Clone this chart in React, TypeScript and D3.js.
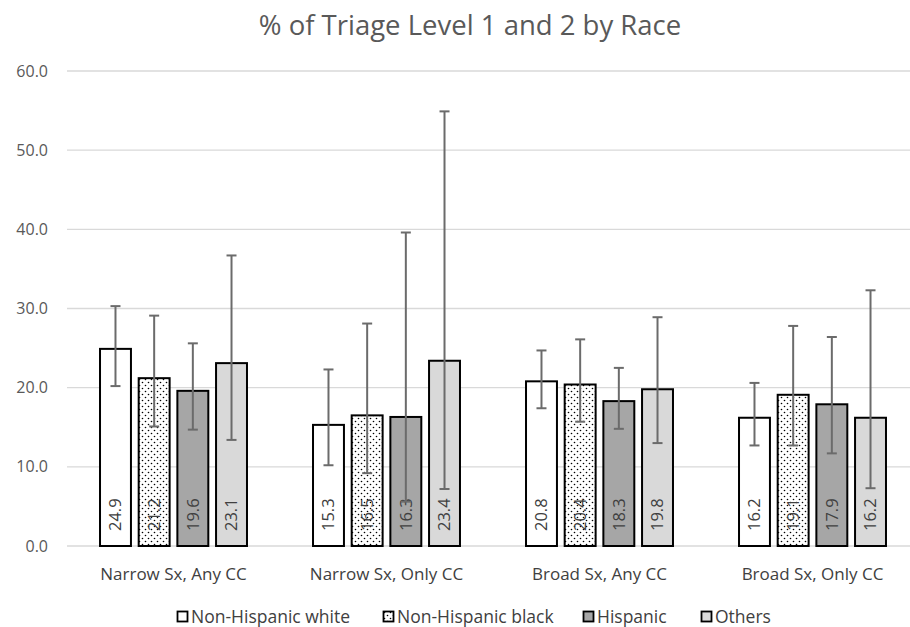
import { useEffect, useRef } from "react";
import * as d3 from "d3";

const categories = ["Narrow Sx, Any CC", "Narrow Sx, Only CC", "Broad Sx, Any CC", "Broad Sx, Only CC"];
const seriesNames = ["Non-Hispanic white", "Non-Hispanic black", "Hispanic", "Others"];

// values per series, one per category
const white = [24.9, 15.3, 20.8, 16.2];
const black = [21.2, 16.5, 20.4, 19.1];
const hispanic = [19.6, 16.3, 18.3, 17.9];
const others = [23.1, 23.4, 19.8, 16.2];

// confidence interval ends
const whiteLow = [20.2, 10.2, 17.4, 12.7];
const whiteHigh = [30.3, 22.3, 24.7, 20.6];
const blackLow = [15.1, 9.2, 15.7, 12.7];
const blackHigh = [29.1, 28.1, 26.1, 27.8];
const hispanicLow = [14.7, 5.6, 14.8, 11.7];
const hispanicHigh = [25.6, 39.6, 22.5, 26.4];
const othersLow = [13.4, 7.2, 13.0, 7.3];
const othersHigh = [36.7, 54.9, 28.9, 32.3];

const yTicks = [0, 10, 20, 30, 40, 50, 60];

const FONT = "'Open Sans', 'Noto Sans', sans-serif";

export default function App() {
    const ref = useRef<SVGSVGElement>(null);

    useEffect(() => {
        const svg = d3.select(ref.current);
        svg.selectAll("*").remove();

        const W = 910, H = 627;
        const left = 67, right = 919, top = 71, bottom = 546;

        const series = [
            { name: seriesNames[0], values: white, low: whiteLow, high: whiteHigh, fill: "#ffffff" },
            { name: seriesNames[1], values: black, low: blackLow, high: blackHigh, fill: "url(#dots)" },
            { name: seriesNames[2], values: hispanic, low: hispanicLow, high: hispanicHigh, fill: "#a6a6a6" },
            { name: seriesNames[3], values: others, low: othersLow, high: othersHigh, fill: "#d9d9d9" },
        ];

        const defs = svg.append("defs");
        const pat = defs.append("pattern")
            .attr("id", "dots")
            .attr("patternUnits", "userSpaceOnUse")
            .attr("width", 6)
            .attr("height", 6);
        pat.append("rect").attr("width", 6).attr("height", 6).attr("fill", "#fff");
        pat.append("circle").attr("cx", 1.5).attr("cy", 1.5).attr("r", 0.8).attr("fill", "#000");
        pat.append("circle").attr("cx", 4.5).attr("cy", 4.5).attr("r", 0.8).attr("fill", "#000");

        const x0 = d3.scaleBand().domain(categories).range([left, right]).paddingInner(0.31).paddingOuter(0.155);
        const x1 = d3.scaleBand().domain(seriesNames).range([0, x0.bandwidth()]).paddingInner(0.2);
        const y = d3.scaleLinear().domain([0, 60]).range([bottom, top]);

        // title
        svg.append("text")
            .attr("x", 470)
            .attr("y", 35)
            .attr("text-anchor", "middle")
            .attr("font-family", FONT)
            .attr("font-size", 27.5)
            .attr("fill", "#595959")
            .text("% of Triage Level 1 and 2 by Race");

        // gridlines
        svg.append("g")
            .selectAll("line")
            .data(yTicks)
            .join("line")
            .attr("x1", left)
            .attr("x2", right)
            .attr("y1", d => y(d))
            .attr("y2", d => y(d))
            .attr("stroke", "#d9d9d9")
            .attr("stroke-width", 1.3);

        // y labels
        svg.append("g")
            .selectAll("text")
            .data(yTicks)
            .join("text")
            .attr("x", 48)
            .attr("y", d => y(d))
            .attr("dy", "0.35em")
            .attr("text-anchor", "end")
            .attr("font-family", FONT)
            .attr("font-size", 16)
            .attr("fill", "#595959")
            .text(d => d.toFixed(1));

        // bars
        const groups = svg.append("g")
            .selectAll("g")
            .data(series)
            .join("g");

        groups.selectAll("rect")
            .data(s => s.values.map((v, i) => ({ s, v, i })))
            .join("rect")
            .attr("x", d => x0(categories[d.i])! + x1(d.s.name)!)
            .attr("y", d => y(d.v))
            .attr("width", x1.bandwidth())
            .attr("height", d => y(0) - y(d.v))
            .attr("fill", d => d.s.fill)
            .attr("stroke", "#000")
            .attr("stroke-width", 2);

        // data labels
        groups.selectAll("text")
            .data(s => s.values.map((v, i) => ({ s, v, i })))
            .join("text")
            .attr("transform", d => {
                const cx = x0(categories[d.i])! + x1(d.s.name)! + x1.bandwidth() / 2;
                return `translate(${cx},${y(0) - 15}) rotate(-90)`;
            })
            .attr("dy", "0.35em")
            .attr("text-anchor", "start")
            .attr("font-family", FONT)
            .attr("font-size", 16.5)
            .attr("fill", "#404040")
            .text(d => d.v.toFixed(1));

        // error bars
        const err = svg.append("g")
            .attr("stroke", "#6b6b6b")
            .attr("stroke-width", 2);
        series.forEach(s => {
            s.values.forEach((v, i) => {
                const cx = x0(categories[i])! + x1(s.name)! + x1.bandwidth() / 2;
                err.append("line").attr("x1", cx).attr("x2", cx).attr("y1", y(s.low[i])).attr("y2", y(s.high[i]));
                err.append("line").attr("x1", cx - 5).attr("x2", cx + 5).attr("y1", y(s.low[i])).attr("y2", y(s.low[i]));
                err.append("line").attr("x1", cx - 5).attr("x2", cx + 5).attr("y1", y(s.high[i])).attr("y2", y(s.high[i]));
            });
        });

        // category labels
        svg.append("g")
            .selectAll("text")
            .data(categories)
            .join("text")
            .attr("x", d => x0(d)! + x0.bandwidth() / 2)
            .attr("y", 574)
            .attr("dy", "0.35em")
            .attr("text-anchor", "middle")
            .attr("font-family", FONT)
            .attr("font-size", 17)
            .attr("fill", "#404040")
            .text(d => d);

        // legend
        const legendX = [177, 383, 583, 701];
        const legend = svg.append("g")
            .selectAll("g")
            .data(series)
            .join("g")
            .attr("transform", (d, i) => `translate(${legendX[i]},617)`);
        legend.append("rect")
            .attr("x", 0.5)
            .attr("y", -5.5)
            .attr("width", 10)
            .attr("height", 10)
            .attr("fill", d => d.fill)
            .attr("stroke", "#000")
            .attr("stroke-width", 1.8);
        legend.append("text")
            .attr("x", 14)
            .attr("y", 0)
            .attr("dy", "0.35em")
            .attr("font-family", FONT)
            .attr("font-size", 17.5)
            .attr("fill", "#404040")
            .text(d => d.name);

        svg.attr("width", W).attr("height", H);
    }, []);

    return (
        <svg
            ref={ref}
            width={910}
            height={627}
            style={{ position: "absolute", left: 0, top: 0, background: "#fff" }}
        />
    );
}
